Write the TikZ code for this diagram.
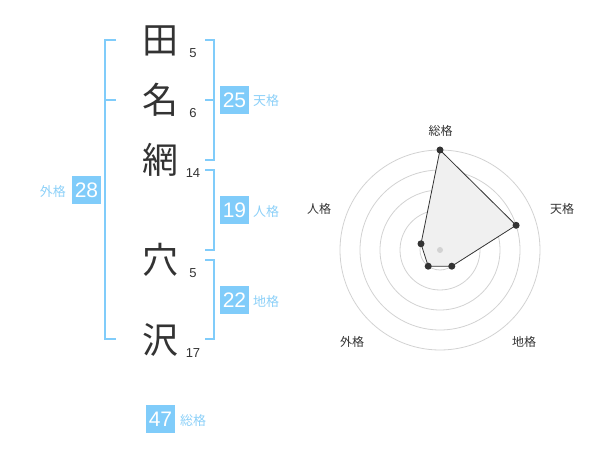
\documentclass[tikz,border=0pt]{standalone}
\usepackage{fontspec}
\setmainfont{Liberation Sans}
\newfontfamily\jp{Noto Sans CJK JP}
\definecolor{ink}{RGB}{51,51,51}
\definecolor{sky}{RGB}{128,204,250}
\definecolor{skytext}{RGB}{140,208,248}
\definecolor{ring}{RGB}{210,210,210}
\definecolor{area}{RGB}{240,240,240}
\tikzset{
  kanji/.style={font=\jp\fontsize{36}{36}\selectfont, text=ink, inner sep=0pt},
  strokes/.style={font=\fontsize{13}{13}\selectfont, text=ink, inner sep=0pt},
  scorebox/.style={fill=sky, text=white, font=\fontsize{21}{21}\selectfont, minimum width=29pt, minimum height=28pt, inner sep=0pt},
  scorelabel/.style={font=\jp\fontsize{13}{13}\selectfont, text=skytext, inner sep=0pt},
  bracket/.style={draw=sky, line width=2pt},
  axislabel/.style={font=\jp\fontsize{12}{12}\selectfont, text=ink, inner sep=0pt},
  ringline/.style={draw=ring, line width=0.8pt},
  dot/.style={circle, fill=ink, minimum size=7pt, inner sep=0pt},
}
\begin{document}
\begin{tikzpicture}[x=1pt,y=-1pt]
\useasboundingbox (0,0) rectangle (600,470);
% characters
\node[kanji] (k1) at (160,41) {田};
\node[kanji] (k2) at (160,100) {名};
\node[kanji] (k3) at (160,160) {網};
\node[kanji] (k4) at (160,260) {穴};
\node[kanji] (k5) at (160,340) {沢};
% stroke counts
\node[strokes] (n1) at (193,53) {5};
\node[strokes] (n2) at (193,113) {6};
\node[strokes] (n3) at (193,173) {14};
\node[strokes] (n4) at (193,273) {5};
\node[strokes] (n5) at (193,353) {17};
% left bracket (外格)
\draw[bracket] (116,40) -- (105,40) -- (105,339) -- (116,339);
\draw[bracket] (105,100) -- (116,100);
% right brackets
\draw[bracket] (205,40) -- (214,40) -- (214,160) -- (205,160);
\draw[bracket] (205,100) -- (214,100);
\draw[bracket] (205,170) -- (214,170) -- (214,250) -- (205,250);
\draw[bracket] (205,260) -- (214,260) -- (214,339) -- (205,339);
% score boxes
\node[scorebox] (ten) at (234.5,100) {25};
\node[scorelabel, anchor=west] (tenl) at (253,101) {天格};
\node[scorebox] (jin) at (234.5,210) {19};
\node[scorelabel, anchor=west] (jinl) at (253,212) {人格};
\node[scorebox] (chi) at (234.5,300) {22};
\node[scorelabel, anchor=west] (chil) at (253,302) {地格};
\node[scorebox] (gai) at (86.5,190) {28};
\node[scorelabel, anchor=east] (gail) at (66,192) {外格};
\node[scorebox] (sou) at (160.5,419) {47};
\node[scorelabel, anchor=west] (soul) at (180,421) {総格};
% radar chart
\coordinate (c) at (440,250);
\foreach \r in {20,40,60,80,100} \draw[ringline] (c) circle[radius=\r pt];
\coordinate (pS) at (440,150);
\coordinate (pT) at (516.1,225.3);
\coordinate (pC) at (451.8,266.2);
\coordinate (pG) at (428.2,266.2);
\coordinate (pJ) at (421.0,243.8);
\fill[area] (pS) -- (pT) -- (pC) -- (pG) -- (pJ) -- cycle;
\draw[ink, line width=0.8pt] (pS) -- (pT) -- (pC) -- (pG) -- (pJ) -- cycle;
\node[circle, fill=ring, minimum size=6pt, inner sep=0pt] (center) at (c) {};
\foreach \p in {pS,pT,pC,pG,pJ} \node[dot] at (\p) {};
\node[axislabel] (aS) at (440.7,130.7) {総格};
\node[axislabel] (aT) at (562,208.7) {天格};
\node[axislabel] (aC) at (524,342) {地格};
\node[axislabel] (aG) at (352,342) {外格};
\node[axislabel] (aJ) at (319,208.7) {人格};
\end{tikzpicture}
\end{document}
